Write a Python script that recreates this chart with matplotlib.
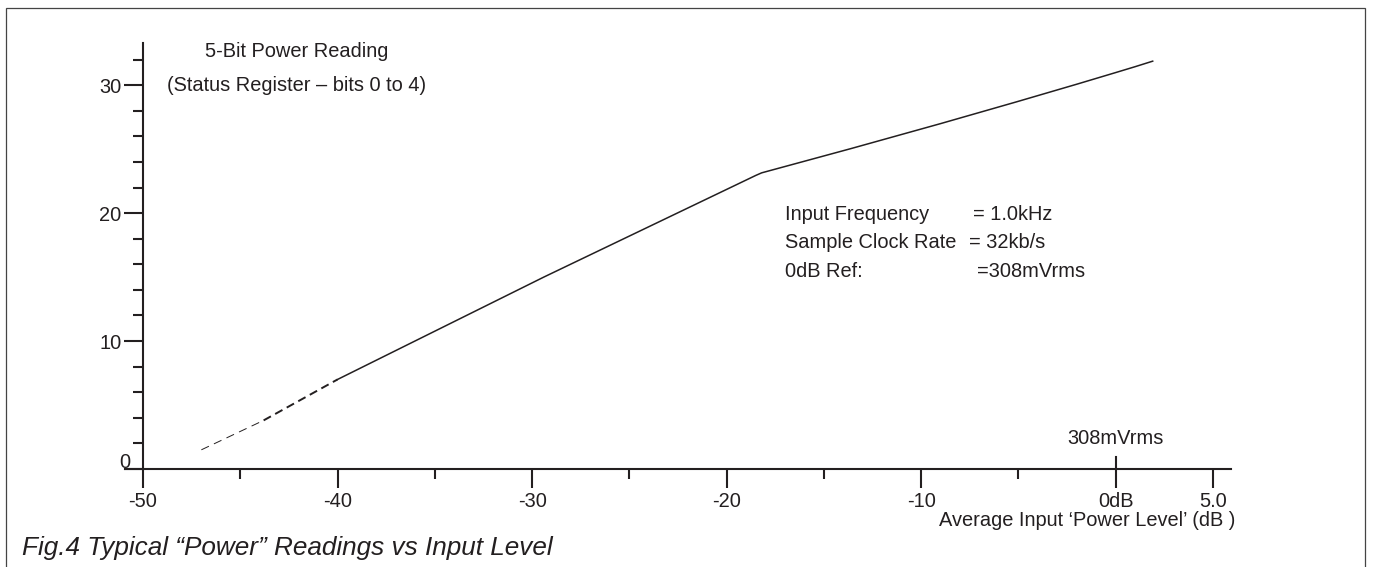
import numpy as np
import matplotlib
matplotlib.use("Agg")
import matplotlib.pyplot as plt
from matplotlib.patches import Rectangle

plt.rcParams['font.family'] = ['Liberation Sans', 'DejaVu Sans']
plt.rcParams['lines.scale_dashes'] = False
INK = "#231f20"
FS = 14.4

# readings
x_thin = [-47.0, -43.8]
y_thin = [1.5, 3.8]
x_dash = [-43.8, -40.0]
y_dash = [3.8, 7.0]
x_solid = [-40.0, -29.4, -18.5, -18.2, -13.6, -9.0, -5.1, -2.0, 0.0, 1.0, 1.9]
y_solid = [7.0, 15.0, 22.95, 23.15, 25.05, 27.0, 28.7, 30.08, 30.99, 31.45, 31.88]

x_major = [-50, -40, -30, -20, -10, 0, 5]
x_labels = ["-50", "-40", "-30", "-20", "-10", "0dB", "5.0"]
x_minor = [-45, -35, -25, -15, -5]
y_major = [0, 10, 20, 30]
y_labels = ["", "10", "20", "30"]
y_minor = [2, 4, 6, 8, 12, 14, 16, 18, 22, 24, 26, 28, 32]

fig = plt.figure(figsize=[13.74, 5.67], dpi=100)
ax = fig.add_axes([125/1374, 1-469/567, 1106/1374, 426/567])
ax.set_xlim(-50 - 18/19.4545, 5 + 18/19.4545)
ax.set_ylim(0, 33.3)

ax.plot(x_thin, y_thin, color=INK, lw=0.7, ls=(0, (6, 4)))
ax.plot(x_dash, y_dash, color=INK, lw=1.4, ls=(0, (6, 3.5)))
ax.plot(x_solid, y_solid, color=INK, lw=1.1)

for s in ["top", "right"]:
    ax.spines[s].set_visible(False)
ax.spines["left"].set_position(("data", -50))
ax.spines["bottom"].set_position(("data", 0))
for s in ["left", "bottom"]:
    ax.spines[s].set_linewidth(1.5)
    ax.spines[s].set_color(INK)

ax.set_xticks(x_major)
ax.set_xticklabels(x_labels)
ax.set_xticks(x_minor, minor=True)
ax.set_yticks(y_major)
ax.set_yticklabels(y_labels)
ax.set_yticks(y_minor, minor=True)
ax.tick_params(which="major", length=13.5, width=1.5, color=INK, labelsize=FS, labelcolor=INK)
ax.tick_params(which="minor", length=7.5, width=1.5, color=INK)
ax.tick_params(axis="x", which="major", pad=3)
ax.tick_params(axis="y", which="major", pad=2)
# 0dB tick also pokes above the axis
ax.axvline(0, ymin=0, ymax=12/426, color=INK, lw=1.5)

ax.annotate("0", xy=(-50, 0), xytext=(-13, 5), textcoords="offset points",
            ha="center", va="center", fontsize=FS, color=INK, annotation_clip=False)

ax.text(-42.1, 32.6, "5-Bit Power Reading", ha="center", va="center", fontsize=FS, color=INK)
ax.text(-42.1, 30.0, "(Status Register \u2013 bits 0 to 4)", ha="center", va="center", fontsize=FS, color=INK)

ax.text(-17.0, 19.86, "Input Frequency", va="center", fontsize=FS, color=INK)
ax.text(-7.34, 19.86, "= 1.0kHz", va="center", fontsize=FS, color=INK)
ax.text(-17.0, 17.67, "Sample Clock Rate", va="center", fontsize=FS, color=INK)
ax.text(-7.54, 17.67, "= 32kb/s", va="center", fontsize=FS, color=INK)
ax.text(-17.0, 15.4, "0dB Ref:", va="center", fontsize=FS, color=INK)
ax.text(-7.13, 15.4, "=308mVrms", va="center", fontsize=FS, color=INK)

ax.text(0, 2.42, "308mVrms", ha="center", va="center", fontsize=FS, color=INK)
ax.text(-1.45, -3.99, "Average Input \u2018Power Level\u2019 (dB )", ha="center", va="center",
        fontsize=FS, color=INK, clip_on=False)

fig.text(22/1374, 1-548/567, "Fig.4 Typical \u201cPower\u201d Readings vs Input Level",
         ha="left", va="center", fontsize=18.8, style="italic", color=INK)

fig.add_artist(Rectangle((6/1374, -0.05), (1365-6)/1374, 1-8/567+0.05,
                         transform=fig.transFigure, fill=False, lw=0.9, ec="#444444"))

plt.savefig("out.png", dpi=100)
